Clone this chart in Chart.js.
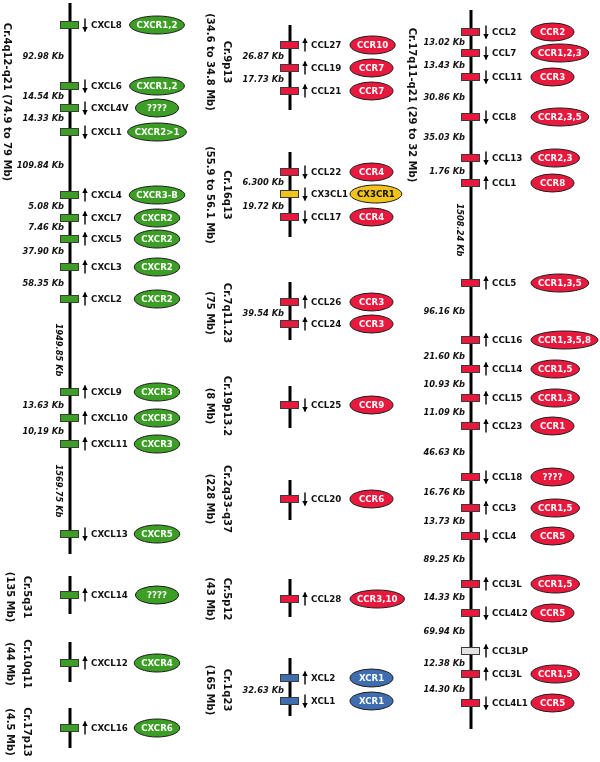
<!DOCTYPE html>
<html>
<head>
<meta charset="utf-8">
<script src="https://cdn.jsdelivr.net/npm/chart.js@4.4.0/dist/chart.umd.min.js"></script>
<style>
  html, body { margin: 0; padding: 0; background: #fff; }
</style>
</head>
<body>
<canvas id="chart" width="600" height="762"></canvas>
<script>
// --- genes: name, column (0 = CXC, 1 = misc, 2 = Cr.17 CC cluster), position, strand, receptor
const genes = [
  'CXCL8', 'CXCL6', 'CXCL4V', 'CXCL1', 'CXCL4', 'CXCL7', 'CXCL5', 'CXCL3', 'CXCL2',
  'CXCL9', 'CXCL10', 'CXCL11', 'CXCL13', 'CXCL14', 'CXCL12', 'CXCL16',
  'CCL27', 'CCL19', 'CCL21', 'CCL22', 'CX3CL1', 'CCL17', 'CCL26', 'CCL24', 'CCL25',
  'CCL20', 'CCL28', 'XCL2', 'XCL1',
  'CCL2', 'CCL7', 'CCL11', 'CCL8', 'CCL13', 'CCL1', 'CCL5', 'CCL16', 'CCL14', 'CCL15',
  'CCL23', 'CCL18', 'CCL3', 'CCL4', 'CCL3L', 'CCL4L2', 'CCL3LP', 'CCL3L', 'CCL4L1'
]
const geneCol = [
  0, 0, 0, 0, 0, 0, 0, 0, 0, 0, 0, 0, 0, 0, 0, 0,
  1, 1, 1, 1, 1, 1, 1, 1, 1, 1, 1, 1, 1,
  2, 2, 2, 2, 2, 2, 2, 2, 2, 2, 2, 2, 2, 2, 2, 2, 2, 2, 2
]
const geneY = [
  25, 86, 108, 132, 195, 218, 239, 267, 299, 392, 418, 444, 534, 595, 663, 728,
  45, 68, 91, 172, 194, 217, 302, 324, 405, 499, 599, 678, 701,
  32, 53, 77, 117, 158, 183, 283, 340, 369, 398, 426, 477, 508, 536, 584, 613, 651, 674, 703
]
// 1 = arrow up, -1 = arrow down
const geneDir = [
  -1, -1, -1, -1, 1, 1, 1, 1, 1, 1, 1, 1, -1, 1, 1, 1,
  1, 1, 1, -1, -1, -1, 1, 1, -1, -1, 1, 1, -1,
  -1, -1, -1, -1, -1, 1, 1, 1, 1, 1, 1, -1, 1, -1, 1, -1, 1, 1, -1
]
const geneType = [
  'cxc', 'cxc', 'cxc', 'cxc', 'cxc', 'cxc', 'cxc', 'cxc', 'cxc', 'cxc', 'cxc', 'cxc', 'cxc', 'cxc', 'cxc', 'cxc',
  'cc', 'cc', 'cc', 'cc', 'cx3c', 'cc', 'cc', 'cc', 'cc', 'cc', 'cc', 'xc', 'xc',
  'cc', 'cc', 'cc', 'cc', 'cc', 'cc', 'cc', 'cc', 'cc', 'cc', 'cc', 'cc', 'cc', 'cc', 'cc', 'cc', 'pseudo', 'cc', 'cc'
]
const receptors = [
  'CXCR1,2', 'CXCR1,2', '????', 'CXCR2>1', 'CXCR3-B', 'CXCR2', 'CXCR2', 'CXCR2', 'CXCR2',
  'CXCR3', 'CXCR3', 'CXCR3', 'CXCR5', '????', 'CXCR4', 'CXCR6',
  'CCR10', 'CCR7', 'CCR7', 'CCR4', 'CX3CR1', 'CCR4', 'CCR3', 'CCR3', 'CCR9',
  'CCR6', 'CCR3,10', 'XCR1', 'XCR1',
  'CCR2', 'CCR1,2,3', 'CCR3', 'CCR2,3,5', 'CCR2,3', 'CCR8', 'CCR1,3,5', 'CCR1,3,5,8', 'CCR1,5', 'CCR1,3',
  'CCR1', '????', 'CCR1,5', 'CCR5', 'CCR1,5', 'CCR5', '', 'CCR1,5', 'CCR5'
]

// --- inter-gene distances
const distLabels = [
  '92.98 Kb', '14.54 Kb', '14.33 Kb', '109.84 Kb', '5.08 Kb', '7.46 Kb', '37.90 Kb', '58.35 Kb', '13.63 Kb', '10,19 Kb',
  '26.87 Kb', '17.73 Kb', '6.300 Kb', '19.72 Kb', '39.54 Kb', '32.63 Kb',
  '13.02 Kb', '13.43 Kb', '30.86 Kb', '35.03 Kb', '1.76 Kb', '96.16 Kb', '21.60 Kb', '10.93 Kb', '11.09 Kb',
  '46.63 Kb', '16.76 Kb', '13.73 Kb', '89.25 Kb', '14.33 Kb', '69.94 Kb', '12.38 Kb', '14.30 Kb'
]
const distCol = [
  0, 0, 0, 0, 0, 0, 0, 0, 0, 0,
  1, 1, 1, 1, 1, 1,
  2, 2, 2, 2, 2, 2, 2, 2, 2, 2, 2, 2, 2, 2, 2, 2, 2
]
const distY = [
  57, 97, 119, 166, 207, 228, 252, 284, 406, 432,
  57, 80, 183, 207, 314, 691,
  43, 66, 98, 138, 172, 312, 357, 385, 413, 453, 493, 522, 560, 598, 632, 664, 690
]
// long gaps written vertically along the chromosome
const longDistLabels = ['1949.85 Kb', '1569.75 Kb', '1508.24 Kb']
const longDistCol = [0, 0, 2]
const longDistY = [350, 491, 230]

// --- chromosome segments
const chromCol = [0, 0, 0, 0, 1, 1, 1, 1, 1, 1, 1, 2]
const chromTop = [3, 576, 642, 708, 25, 152, 282, 386, 480, 579, 658, 10]
const chromBottom = [554, 614, 682, 748, 110, 237, 340, 428, 520, 617, 716, 729]
const chromName = [
  'Cr.4q12-q21 (74.9 to 79 Mb)', 'Cr.5q31', 'Cr.10q11', 'Cr.17p13',
  'Cr.9p13', 'Cr.16q13', 'Cr.7q11.23', 'Cr.19p13.2', 'Cr.2q33-q37', 'Cr.5p12', 'Cr.1q23',
  'Cr.17q11-q21 (29 to 32 Mb)'
]
const chromRange = [
  '', '(135 Mb)', '(44 Mb)', '(4.5 Mb)',
  '(34.6 to 34.8 Mb)', '(55.9 to 56.1 Mb)', '(75 Mb)', '(8 Mb)', '(228 Mb)', '(43 Mb)', '(165 Mb)',
  ''
]
const chromLabelY = [102, 597, 664, 732, 62, 195, 313, 406, 499, 599, 690, 105]

// layout
const lineX = [70, 290, 471]
const labelX1 = [27, 227, 412]   // first text line (or single line)
const labelX2 = [10, 210, 0]
const singleLabelX = [7, 0, 412]
const FONT = '"DejaVu Sans", Verdana, sans-serif'
const fills = { cxc: '#3c9e25', cc: '#e8193d', cx3c: '#f1c31b', xc: '#3e6db0', pseudo: '#e3e3e3' }

function drawArrow(ctx, ax, ay, dir) {
  const top = ay - 6.5, bot = ay + 6.5
  ctx.beginPath()
  ctx.moveTo(ax, top)
  ctx.lineTo(ax, bot)
  ctx.lineWidth = 1.4
  ctx.stroke()
  const tip = dir > 0 ? top : bot
  const s = dir > 0 ? 1 : -1
  ctx.beginPath()
  ctx.moveTo(ax, tip - s * 0.5)
  ctx.lineTo(ax - 2.7, tip + 4.5 * s)
  ctx.lineTo(ax + 2.7, tip + 4.5 * s)
  ctx.closePath()
  ctx.fill()
}

function vText(ctx, text, px, py) {
  ctx.save()
  ctx.translate(px, py)
  ctx.rotate(Math.PI / 2)
  ctx.fillText(text, 0, 0)
  ctx.restore()
}

const mapPlugin = {
  id: 'chemokineMap',
  afterDatasetsDraw(chart) {
    const { ctx } = chart
    const sx = chart.scales.x
    const sy = chart.scales.y
    ctx.save()
    ctx.strokeStyle = '#000'
    ctx.fillStyle = '#000'

    // chromosome lines
    chromCol.forEach((c, i) => {
      const px = sx.getPixelForValue(lineX[c])
      ctx.beginPath()
      ctx.moveTo(px, sy.getPixelForValue(chromTop[i]))
      ctx.lineTo(px, sy.getPixelForValue(chromBottom[i]))
      ctx.lineWidth = 3
      ctx.stroke()
    })

    // genes
    genes.forEach((g, i) => {
      const c = geneCol[i]
      const px = sx.getPixelForValue(lineX[c])
      const py = sy.getPixelForValue(geneY[i])

      ctx.fillStyle = fills[geneType[i]]
      ctx.fillRect(px - 10, py - 4, 19, 8)
      ctx.strokeStyle = '#3a3a3a'
      ctx.lineWidth = 1
      ctx.strokeRect(px - 10 + 0.5, py - 4 + 0.5, 18, 7)

      ctx.fillStyle = '#000'
      ctx.strokeStyle = '#000'
      drawArrow(ctx, px + 15, py, geneDir[i])

      ctx.font = 'bold 8.7px ' + FONT
      ctx.textAlign = 'left'
      ctx.textBaseline = 'middle'
      ctx.fillStyle = '#111'
      ctx.fillText(g, px + 21, py + 1)

      const r = receptors[i]
      if (!r) return
      ctx.font = 'bold 8.6px ' + FONT
      const w = Math.max(43, ctx.measureText(r).width + 14)
      const ex = c === 0 ? px + 87 : px + 60 + w / 2
      ctx.beginPath()
      ctx.ellipse(ex, py, w / 2, 9, 0, 0, Math.PI * 2)
      ctx.fillStyle = fills[geneType[i]]
      ctx.fill()
      ctx.lineWidth = 1
      ctx.strokeStyle = '#1a1a1a'
      ctx.stroke()
      ctx.fillStyle = geneType[i] === 'cx3c' ? '#111' : '#fff'
      ctx.textAlign = 'center'
      ctx.fillText(r, ex, py + 1)
    })

    // distances between neighbouring genes
    ctx.fillStyle = '#111'
    ctx.font = 'italic bold 8.3px ' + FONT
    ctx.textAlign = 'right'
    ctx.textBaseline = 'middle'
    distLabels.forEach((t, i) => {
      ctx.fillText(t, sx.getPixelForValue(lineX[distCol[i]] - 6), sy.getPixelForValue(distY[i]))
    })

    ctx.textAlign = 'center'
    longDistLabels.forEach((t, i) => {
      vText(ctx, t, sx.getPixelForValue(lineX[longDistCol[i]] - 12), sy.getPixelForValue(longDistY[i]))
    })

    // chromosome names
    ctx.font = 'bold 10px ' + FONT
    chromName.forEach((t, i) => {
      const c = chromCol[i]
      const py = sy.getPixelForValue(chromLabelY[i])
      if (chromRange[i]) {
        vText(ctx, t, labelX1[c], py)
        vText(ctx, chromRange[i], labelX2[c], py)
      } else {
        vText(ctx, t, singleLabelX[c], py)
      }
    })
    ctx.restore()
  }
}

new Chart(document.getElementById('chart'), {
  type: 'scatter',
  data: {
    datasets: [{
      label: 'genes',
      data: genes.map((g, i) => ({ x: lineX[geneCol[i]], y: geneY[i] })),
      pointRadius: 0
    }]
  },
  options: {
    responsive: false,
    animation: false,
    events: [],
    layout: { padding: 0 },
    plugins: { legend: { display: false }, tooltip: { enabled: false } },
    scales: {
      x: { type: 'linear', min: 0, max: 600, display: false },
      y: { type: 'linear', min: 0, max: 762, reverse: true, display: false }
    }
  },
  plugins: [mapPlugin]
})
</script>
</body>
</html>
